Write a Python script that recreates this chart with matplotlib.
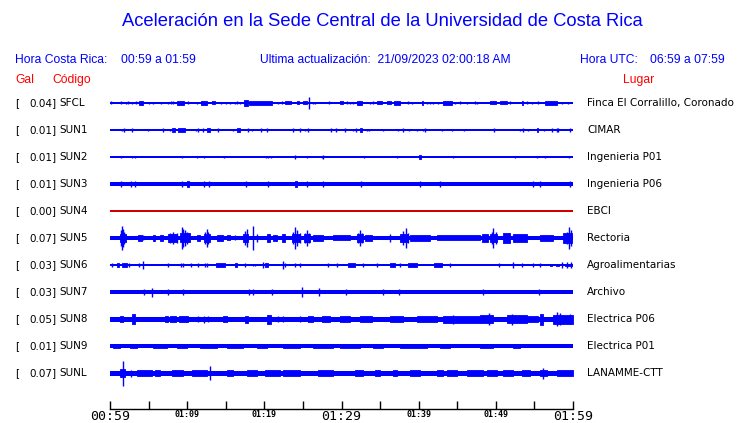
import matplotlib
matplotlib.use('Agg')
import matplotlib.pyplot as plt

W, H = 740, 423

# estaciones
codigos = ['SFCL', 'SUN1', 'SUN2', 'SUN3', 'SUN4', 'SUN5', 'SUN6', 'SUN7', 'SUN8', 'SUN9', 'SUNL']
gal = ['0.04', '0.01', '0.01', '0.01', '0.00', '0.07', '0.03', '0.03', '0.05', '0.01', '0.07']
lugares = ['Finca El Corralillo, Coronado', 'CIMAR', 'Ingenieria P01', 'Ingenieria P06', 'EBCI',
           'Rectoria', 'Agroalimentarias', 'Archivo', 'Electrica P06', 'Electrica P01', 'LANAMME-CTT']

# espesor base de cada traza (media amplitud)
base = [0.7, 0.6, 0.6, 2.0, 0.6, 2.2, 0.6, 2.0, 2.5, 1.6, 2.5]

# rafagas: (minuto inicio, minuto fin, media amplitud)
sfcl = [(0.1, 0.1, 1.5), (1.4, 1.4, 1.5), (2.1, 2.1, 1.2), (2.3, 2.3, 1.5), (2.9, 2.9, 1.2), (3.4, 3.4, 1.5),
        (3.8, 4.3, 1.8), (5.1, 5.1, 1.2), (5.6, 5.6, 1.2), (6.6, 6.6, 1.2), (7.5, 7.5, 1.2), (7.9, 7.9, 1.5),
        (8.2, 8.2, 1.5), (8.7, 9.6, 1.8), (10.1, 10.1, 1.5), (11.3, 11.3, 1.2), (11.8, 12.6, 1.8),
        (13.2, 13.6, 1.5), (14.4, 14.4, 1.2), (15.0, 15.0, 1.2), (15.6, 15.6, 1.2), (16.2, 16.2, 1.2),
        (16.5, 16.5, 1.5), (16.8, 16.8, 1.2), (17.4, 17.9, 2.7), (18.0, 21.0, 1.8), (21.8, 21.8, 1.2),
        (22.3, 22.3, 1.5), (22.7, 23.5, 1.5), (24.2, 24.5, 1.5), (25.0, 25.5, 1.5), (25.8, 25.8, 5.8),
        (26.3, 26.3, 1.2), (26.6, 26.6, 1.2), (28.4, 28.4, 1.5), (29.8, 30.2, 1.5), (30.7, 30.7, 1.5),
        (31.1, 31.1, 1.2), (31.5, 31.5, 1.2), (32.0, 32.7, 1.8), (33.7, 33.7, 1.2), (34.1, 34.1, 1.5),
        (34.6, 35.3, 1.5), (35.9, 36.4, 1.5), (36.8, 37.6, 1.8), (38.6, 38.6, 1.5), (39.1, 39.1, 1.2),
        (40.4, 40.6, 1.8), (41.1, 41.1, 1.2), (41.5, 41.5, 1.2), (41.9, 41.9, 1.2), (42.5, 42.5, 1.2),
        (43.2, 44.3, 2.0), (44.7, 44.7, 1.2), (45.4, 45.4, 1.5), (46.3, 46.3, 1.2), (47.3, 47.3, 1.5),
        (47.6, 47.6, 1.2), (49.2, 50.0, 1.5), (50.5, 51.5, 1.5), (51.8, 51.8, 1.5), (53.4, 53.5, 2.2),
        (54.0, 54.0, 1.5), (54.7, 54.7, 1.2), (55.5, 55.5, 1.5), (56.4, 57.9, 1.8), (58.6, 58.6, 1.2),
        (59.4, 59.4, 1.2)]
sun1 = [(1.6, 1.6, 1.3), (1.8, 1.8, 1.6), (2.9, 2.9, 2.0), (4.9, 4.9, 1.3), (6.9, 6.9, 1.6), (7.8, 7.8, 1.3),
        (8.0, 8.4, 2.0), (8.8, 9.7, 2.0), (11.1, 11.1, 1.3), (11.4, 11.4, 1.6), (12.1, 12.1, 1.6),
        (12.6, 13.0, 2.0), (14.0, 14.0, 1.6), (15.9, 15.9, 1.3), (16.5, 16.8, 2.0), (17.9, 17.9, 1.6),
        (18.4, 18.4, 1.3), (19.6, 19.6, 2.0), (20.3, 20.3, 1.6), (23.7, 23.7, 1.6), (24.6, 24.6, 1.6),
        (25.3, 25.3, 1.3), (25.7, 25.7, 1.6), (28.6, 28.6, 1.6), (29.3, 29.3, 1.6), (30.5, 30.5, 1.6),
        (31.5, 31.5, 1.3), (31.9, 31.9, 2.0), (32.4, 32.7, 2.4), (33.3, 33.3, 1.3), (33.6, 33.6, 1.3),
        (35.4, 35.4, 1.3), (37.3, 37.3, 1.3), (38.0, 38.0, 2.4), (38.8, 38.8, 1.3), (39.8, 39.8, 1.3),
        (40.6, 40.6, 1.3), (40.8, 40.8, 1.6), (43.0, 43.0, 1.3), (44.3, 44.3, 1.3), (45.9, 45.9, 1.3),
        (49.8, 49.8, 1.6), (53.1, 53.1, 1.3), (53.5, 53.5, 1.6), (54.2, 54.2, 1.3), (55.3, 55.5, 2.0),
        (56.2, 56.2, 1.3), (57.3, 57.3, 1.6), (57.9, 57.9, 2.4), (58.1, 58.1, 1.6), (59.6, 59.6, 1.6)]
sun2 = [(1.4, 1.4, 1.2), (2.9, 2.9, 1.2), (3.2, 3.2, 1.2), (9.3, 9.3, 1.2), (11.3, 11.3, 0.9), (12.2, 12.2, 1.2),
        (14.8, 14.8, 1.2), (20.2, 20.2, 0.9), (20.5, 20.5, 0.9), (20.9, 20.9, 0.9), (24.0, 24.0, 1.6),
        (25.5, 25.5, 1.2), (27.5, 27.5, 1.2), (27.6, 27.6, 1.6), (32.9, 32.9, 0.9), (37.2, 37.2, 0.9),
        (40.0, 40.3, 1.6), (44.5, 44.5, 0.9), (52.5, 52.5, 0.9), (55.3, 55.3, 0.9), (56.4, 56.4, 0.9),
        (59.5, 59.5, 0.9)]
sun3 = [(1.4, 1.4, 3.0), (2.7, 2.7, 2.8), (3.2, 3.2, 3.0), (9.3, 9.3, 3.0), (10.0, 10.2, 2.8), (12.2, 12.2, 2.8),
        (12.8, 12.8, 2.8), (17.6, 17.6, 3.0), (20.5, 20.5, 2.8), (24.0, 24.2, 3.1), (25.5, 25.5, 2.8),
        (27.6, 27.6, 3.0), (32.5, 32.5, 2.8), (40.2, 40.2, 3.0), (42.8, 42.8, 2.8), (54.8, 54.8, 3.3),
        (55.7, 55.7, 3.0), (59.6, 59.6, 3.0)]
sun4 = []
sun5 = [(1.3, 2.1, 4.0), (1.4, 1.4, 8), (1.6, 1.6, 12), (1.7, 1.7, 9), (1.8, 1.8, 6), (3.6, 4.1, 3),
        (4.3, 4.3, 2.5), (5.6, 5.8, 3), (6.5, 6.9, 3), (7.5, 8.7, 4), (7.8, 7.8, 5), (8.2, 8.2, 6),
        (8.7, 8.7, 5), (9.1, 10.4, 4.5), (9.3, 9.3, 11), (9.5, 9.5, 9), (9.7, 9.7, 8), (10.0, 10.0, 6),
        (11.3, 11.7, 3), (12.2, 13.0, 4), (12.3, 12.3, 6), (12.6, 12.6, 9), (12.7, 12.7, 6),
        (13.9, 14.6, 3), (15.2, 15.6, 2.5), (16.2, 16.2, 2.5), (17.2, 17.9, 4), (17.5, 17.5, 7),
        (17.8, 17.8, 9), (18.5, 18.5, 12), (19.1, 19.1, 4), (20.3, 20.7, 4), (21.1, 21.6, 3),
        (22.3, 22.7, 4), (23.6, 24.6, 4), (23.7, 23.7, 6), (24.0, 24.0, 11), (24.2, 24.2, 8),
        (24.6, 24.6, 5), (25.2, 25.9, 4), (25.3, 25.3, 5), (25.5, 25.5, 8), (25.8, 25.8, 5),
        (26.3, 27.6, 3), (28.9, 31.1, 2.5), (32.0, 32.8, 4), (32.1, 32.1, 5), (32.4, 32.4, 8),
        (32.7, 32.7, 5), (33.0, 34.0, 3), (36.3, 36.3, 4), (37.6, 38.6, 4), (38.0, 38.0, 7),
        (38.4, 38.4, 10), (38.6, 38.6, 5), (38.9, 41.5, 3), (42.4, 48.0, 2.5), (48.2, 49.0, 4),
        (49.3, 50.2, 4), (49.5, 49.5, 6), (49.6, 49.6, 10), (50.0, 50.0, 6), (50.9, 51.8, 5),
        (52.2, 54.0, 4), (55.7, 57.4, 3), (58.7, 59.9, 5), (59.2, 59.2, 6), (59.5, 59.5, 11),
        (59.7, 59.7, 8)]
sun6 = [(0.3, 0.3, 1.6), (0.9, 1.2, 1.6), (1.6, 2.2, 1.6), (2.5, 2.5, 1.6), (3.8, 3.8, 1.6), (4.3, 4.3, 4.2),
        (7.5, 7.5, 1.6), (9.2, 9.2, 1.6), (9.5, 9.5, 2.4), (10.5, 10.5, 1.6), (11.4, 11.4, 2.4),
        (12.3, 12.3, 1.6), (12.6, 12.6, 2.4), (13.7, 14.9, 2.0), (16.2, 16.5, 2.0), (17.5, 17.5, 1.6),
        (18.5, 18.5, 1.2), (18.8, 18.8, 1.2), (19.8, 19.8, 3.0), (20.1, 20.5, 2.0), (22.4, 22.4, 4.2),
        (22.7, 22.7, 1.6), (24.0, 24.0, 1.6), (24.6, 24.6, 1.6), (28.3, 28.3, 1.6), (29.4, 29.4, 2.4),
        (30.8, 31.8, 2.0), (32.8, 32.8, 1.6), (34.6, 34.6, 1.6), (36.3, 36.9, 1.6), (37.6, 37.6, 2.0),
        (38.6, 39.8, 1.6), (42.0, 43.0, 2.0), (44.1, 44.1, 1.6), (50.4, 50.4, 1.6), (52.2, 52.2, 2.6),
        (53.4, 53.4, 1.6), (54.8, 54.8, 1.6), (55.7, 55.7, 1.6), (57.0, 57.3, 1.4), (57.8, 58.2, 1.4),
        (58.9, 59.9, 1.4), (58.6, 58.6, 2.6), (59.2, 59.2, 2.6), (59.7, 59.7, 2.6)]
sun7 = [(4.4, 4.4, 3.0), (5.4, 5.4, 4.5), (7.5, 7.5, 3.3), (9.5, 9.5, 3.3), (18.0, 18.0, 3.3), (18.5, 18.5, 3.0),
        (21.0, 21.0, 3.3), (24.9, 24.9, 4.8), (27.1, 27.1, 3.8), (30.6, 30.6, 3.0), (35.4, 35.4, 3.3),
        (37.5, 37.5, 2.8), (48.3, 48.3, 2.8), (55.6, 55.6, 3.3)]
sun8 = [(1.3, 1.7, 3.2), (2.9, 3.2, 5), (7.1, 7.5, 3.2), (7.8, 8.5, 3), (9.0, 10.1, 3), (11.4, 11.4, 3.2),
        (12.2, 12.2, 3.5), (12.7, 12.7, 3), (14.6, 15.2, 3.2), (17.5, 17.9, 3.5), (20.3, 20.9, 4.5),
        (21.8, 21.8, 3.2), (22.4, 22.4, 3.2), (24.6, 24.6, 3.2), (25.7, 26.3, 3.2), (27.5, 28.5, 3.2),
        (29.8, 31.1, 3.2), (32.4, 34.0, 3), (36.3, 38.0, 3), (39.8, 42.4, 3), (43.2, 47.9, 3.5),
        (44.5, 44.5, 4.5), (47.9, 49.6, 4), (49.1, 49.1, 6), (51.5, 54.0, 4), (52.1, 52.1, 5.5),
        (54.0, 55.5, 3.2), (55.7, 56.1, 5.5), (57.4, 60.0, 4.5), (57.9, 57.9, 7), (58.3, 58.3, 6),
        (59.6, 59.6, 5)]
sun9 = [(0.4, 1.3, 2.0), (2.6, 3.5, 2.0), (5.6, 7.4, 2.0), (8.7, 10.0, 2.0), (11.7, 13.9, 2.0),
        (15.2, 17.2, 2.0), (19.0, 20.3, 2.0), (22.4, 24.6, 2.0), (26.3, 28.9, 2.0), (29.8, 32.4, 2.0),
        (34.1, 35.4, 2.0), (37.6, 41.1, 2.0), (42.8, 44.1, 2.0), (47.9, 49.6, 2.0), (52.2, 53.1, 2.0)]
sunl = [(1.3, 1.9, 4), (1.7, 1.7, 12.5), (2.7, 2.7, 3.5), (3.5, 5.4, 3.2), (5.8, 6.5, 3.2), (8.0, 9.5, 3.2),
        (10.6, 12.6, 3.2), (13.0, 13.0, 6.7), (15.2, 15.9, 3.2), (17.8, 19.1, 3.2), (20.1, 22.0, 3.2),
        (22.4, 24.6, 3.2), (27.0, 28.9, 3.2), (31.8, 32.8, 3.2), (34.3, 35.0, 3.2), (36.7, 37.2, 3.2),
        (38.9, 40.2, 3.2), (42.4, 43.2, 3.2), (43.7, 45.0, 3.2), (46.3, 48.3, 3.2), (48.9, 50.2, 3.2),
        (50.9, 52.2, 3.2), (53.4, 54.4, 3.2), (55.7, 56.6, 3.2), (56.1, 56.1, 5.5), (57.9, 60.0, 3.2)]
rafagas = [sfcl, sun1, sun2, sun3, sun4, sun5, sun6, sun7, sun8, sun9, sunl]

minutos = list(range(0, 61, 5))
etiquetas = ['00:59', '', '01:09', '', '01:19', '', '01:29', '', '01:39', '', '01:49', '', '01:59']

AZUL = '#0000ff'
ROJO = '#ff0000'

fig = plt.figure(figsize=(W / 100, H / 100), dpi=100)

def px(x, y):
    return x / W, 1 - y / H

# ---- trazas ----
x0, x1 = 110, 573
top, bot = 88, 388
ax = fig.add_axes([x0 / W, 1 - bot / H, (x1 - x0) / W, (bot - top) / H])
ax.set_xlim(0, 60)
ax.set_ylim(bot - top, 0)
ax.axis('off')

for i, cod in enumerate(codigos):
    yc = 15 + 27 * i
    col = '#d00000' if cod == 'SUN4' else AZUL
    b = base[i]
    ax.fill_between([0, 60], yc - b, yc + b, color=col, lw=0)
    for t0, t1, h in rafagas[i]:
        if t1 > t0:
            ax.fill_between([t0, t1], yc - h, yc + h, color=col, lw=0.6, edgecolor=col)
        else:
            ax.vlines(t0, yc - h, yc + h, color=col, lw=1.0)

# ---- eje de tiempo ----
axt = fig.add_axes([x0 / W, 1 - 409 / H, (x1 - x0) / W, 0.0001])
axt.set_xlim(0, 60)
for s in ['top', 'left', 'right']:
    axt.spines[s].set_visible(False)
axt.spines['bottom'].set_linewidth(1.0)
axt.set_yticks([])
axt.set_xticks(minutos)
axt.set_xticklabels(etiquetas)
axt.tick_params(axis='x', direction='in', length=6, width=1, pad=1)
for lbl in axt.get_xticklabels():
    lbl.set_family('DejaVu Sans Mono')
    if lbl.get_text() in ('00:59', '01:29', '01:59'):
        lbl.set_fontsize(9.5)
    else:
        lbl.set_fontsize(6)
        lbl.set_fontweight('bold')

# ---- textos ----
fig.text(*px(382, 22), 'Aceleración en la Sede Central de la Universidad de Costa Rica',
         ha='center', va='center', color=AZUL, fontsize=13.2, family='Liberation Sans')
fig.text(*px(15, 60), 'Hora Costa Rica:', ha='left', va='center', color=AZUL, fontsize=8.7, family='Liberation Sans')
fig.text(*px(121, 60), '00:59 a 01:59', ha='left', va='center', color=AZUL, fontsize=8.7, family='Liberation Sans')
fig.text(*px(260, 60), 'Ultima actualización:  21/09/2023 02:00:18 AM', ha='left', va='center',
         color=AZUL, fontsize=8.7, family='Liberation Sans')
fig.text(*px(580, 60), 'Hora UTC:', ha='left', va='center', color=AZUL, fontsize=8.7, family='Liberation Sans')
fig.text(*px(725, 60), '06:59 a 07:59', ha='right', va='center', color=AZUL, fontsize=8.7, family='Liberation Sans')
fig.text(*px(15, 80), 'Gal', ha='left', va='center', color=ROJO, fontsize=8.7, family='Liberation Sans')
fig.text(*px(52, 80), 'Código', ha='left', va='center', color=ROJO, fontsize=8.7, family='Liberation Sans')
fig.text(*px(623, 80), 'Lugar', ha='left', va='center', color=ROJO, fontsize=8.7, family='Liberation Sans')

for i, cod in enumerate(codigos):
    y = 103 + 27 * i
    fig.text(*px(15, y), '[', ha='left', va='center', fontsize=7.5)
    fig.text(*px(56, y), gal[i] + ']', ha='right', va='center', fontsize=7.5)
    fig.text(*px(59, y), cod, ha='left', va='center', fontsize=7.5)
    fig.text(*px(587, y), lugares[i], ha='left', va='center', fontsize=7.5)

fig.savefig('out.png', dpi=100)
